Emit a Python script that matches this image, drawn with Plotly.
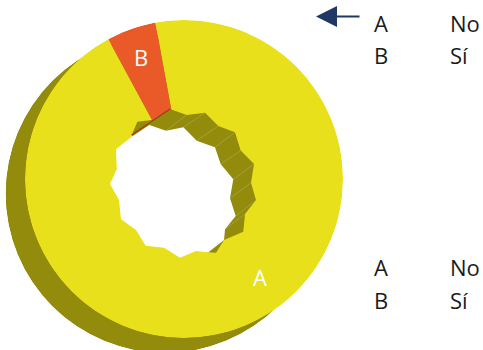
import plotly.graph_objects as go

categories = ["A", "B"]
meanings = ["No", "Sí"]
shares = [95, 5]
slice_colors = ["#E7E01A", "#E95A28"]
start_angle = 349.6

# Jagged far rim of the hole (radius, angle clockwise from north)
rim_far_r = [64.2, 51.6, 51.7, 40.4, 44.3, 39.6, 49.3, 49.9, 63.6, 64.9, 72.9, 77.3,
             73.0, 78.8, 71.5, 76.9, 70.0, 74.8, 68.3, 74.2, 68.0, 74.2, 67.3]
rim_far_t = [327.3, 339.6, 359.3, 18.3, 44.4, 67.8, 90.4, 112.8, 125.6, 140.8, 146.7, 161.6,
             170.5, 182.9, 196.2, 209.9, 223.3, 237.4, 252.1, 266.1, 278.2, 293.6, 309.0]
# Visible part of the near rim of the hole
rim_near_r = [68.4, 73.9, 67.3, 71.4, 64.1, 69.6, 63.1, 69.1, 63.4, 71.6, 67.1, 75.0,
              70.3, 79.3, 72.9, 80.3, 77.3]
rim_near_t = [310.1, 320.9, 331.3, 348.7, 2.4, 17.6, 32.9, 47.5, 63.4, 77.9, 93.1, 106.3,
              119.8, 131.6, 146.7, 156.5, 161.6]
# Pairs (far rim index, near rim index) joined by a facet seam
seam_far = [1, 2, 3, 4, 5, 6, 7, 8, 9]
seam_near = [4, 5, 6, 7, 8, 9, 10, 11, 12]

label_r = [126.4, 125.6]
label_t = [143.1, 340.0]

OLIVE = "#928B0C"
FONT = "Open Sans, Noto Sans, sans-serif"
R_MAX = 159

fig = go.Figure()

# Extruded back of the ring
fig.add_trace(go.Barpolar(r=[R_MAX], theta=[180], width=[360], subplot="polar",
                          marker=dict(color=OLIVE, line=dict(width=0)), hoverinfo="skip"))

# Front face of the ring
angle = start_angle
total = sum(shares)
for name, share, color in zip(categories, shares, slice_colors):
    span = share / total * 360
    fig.add_trace(go.Barpolar(r=[R_MAX], theta=[angle + span / 2], width=[span], name=name,
                              subplot="polar2", marker=dict(color=color, line=dict(width=0))))
    angle += span

# Inner wall of the hole
fig.add_trace(go.Scatterpolar(r=rim_near_r, theta=rim_near_t, mode="lines", fill="toself",
                              fillcolor=OLIVE, line=dict(width=0, color=OLIVE),
                              subplot="polar2", hoverinfo="skip"))
seam_r, seam_t = [], []
for i, j in zip(seam_far, seam_near):
    seam_r += [rim_far_r[i], rim_near_r[j], None]
    seam_t += [rim_far_t[i], rim_near_t[j], None]
fig.add_trace(go.Scatterpolar(r=seam_r, theta=seam_t, mode="lines",
                              line=dict(width=0.6, color="#B4AE5A"),
                              subplot="polar2", hoverinfo="skip"))
# The opening
fig.add_trace(go.Scatterpolar(r=rim_far_r + rim_far_r[:1], theta=rim_far_t + rim_far_t[:1],
                              mode="lines", fill="toself", fillcolor="white",
                              line=dict(width=0, color="white"),
                              subplot="polar2", hoverinfo="skip"))
# Dark red wall under slice B
fig.add_trace(go.Scatterpolar(r=[rim_near_r[0], rim_near_r[3]], theta=[rim_near_t[0], rim_near_t[3]],
                              mode="lines", line=dict(width=1.2, color="#A63A16"),
                              subplot="polar2", hoverinfo="skip"))
# Slice labels
fig.add_trace(go.Scatterpolar(r=label_r, theta=label_t, text=categories, mode="text",
                              textfont=dict(family=FONT, size=22, color="white"),
                              subplot="polar2", hoverinfo="skip"))

hidden_angular = dict(visible=False, rotation=90, direction="clockwise")
hidden_radial = dict(visible=False, range=[0, R_MAX])
W, H = 483, 356  # the back of the ring runs past the 350 px window, as in the reference
fig.update_layout(
    width=W, height=H, margin=dict(l=0, r=0, t=0, b=0), showlegend=False,
    paper_bgcolor="white", plot_bgcolor="white",
    polar=dict(domain=dict(x=[5.5 / W, 324.5 / W], y=[(H - 353) / H, (H - 34) / H]), bgcolor="rgba(0,0,0,0)",
               angularaxis=hidden_angular, radialaxis=hidden_radial),
    polar2=dict(domain=dict(x=[25 / W, 343 / W], y=[(H - 338) / H, (H - 20) / H]), bgcolor="rgba(0,0,0,0)",
                angularaxis=hidden_angular, radialaxis=hidden_radial),
)

# Key text, twice, as in the original
for y_px, cat, txt in [(23, categories[0], meanings[0]), (55, categories[1], meanings[1]),
                       (267, categories[0], meanings[0]), (300, categories[1], meanings[1])]:
    for x_px, s in [(375, cat), (451, txt)]:
        fig.add_annotation(x=x_px / W, y=1 - y_px / H, xref="paper", yref="paper", text=s,
                           showarrow=False, xanchor="left", yanchor="middle", xshift=-3,
                           font=dict(family=FONT, size=22, color="#1a1a1a"))

# Arrow pointing at the ring
fig.add_annotation(x=316 / W, y=1 - 16.5 / H, ax=45, ay=0,
                   xref="paper", yref="paper", axref="pixel", ayref="pixel",
                   text="", showarrow=True, arrowhead=2, arrowsize=2.1, arrowwidth=2,
                   arrowcolor="#1F3864")

fig.write_html("out.html", config={"displayModeBar": False},
               post_script="document.body.style.margin='0';document.documentElement.style.overflow='hidden';")
